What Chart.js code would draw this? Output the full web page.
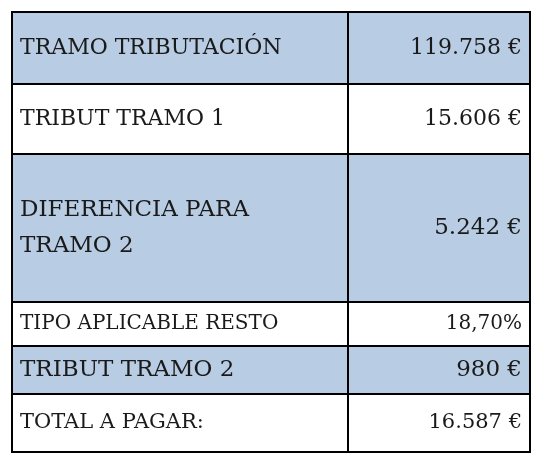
<!DOCTYPE html>
<html>
<head>
<meta charset="utf-8">
<script src="https://cdn.jsdelivr.net/npm/chart.js@4"></script>
<style>body{margin:0;background:#fff}#wrap{width:539px;height:459px}</style>
</head>
<body>
<div id="wrap"><canvas id="myChart"></canvas></div>
<script>
var labels = ["TRAMO TRIBUTACIÓN", "TRIBUT TRAMO 1", "DIFERENCIA PARA\nTRAMO 2", "TIPO APLICABLE RESTO", "TRIBUT TRAMO 2", "TOTAL A PAGAR:"];
var values = ["119.758 €", "15.606 €", "5.242 €", "18,70%", "980 €", "16.587 €"];
var rowEdges = [12, 84, 154, 302, 346, 394, 452];
var fontSizes = [22, 22, 23, 20, 23, 21];

var tablePlugin = {
  id: 'table',
  afterDraw: function (chart) {
    var c = chart.ctx, left = 12, right = 530, mid = 348;
    c.save();
    for (var i = 0; i < labels.length; i++) {
      var top = rowEdges[i], bot = rowEdges[i + 1];
      c.fillStyle = i % 2 == 0 ? '#b8cce4' : '#ffffff';
      c.fillRect(left, top, right - left, bot - top);
      c.fillStyle = '#1a1a1a';
      c.font = fontSizes[i] + 'px "DejaVu Serif", serif';
      c.textBaseline = 'middle';
      var lines = labels[i].split('\n'), cy = (top + bot) / 2, lh = fontSizes[i] * 1.6;
      c.textAlign = 'left';
      lines.forEach(function (l, k) {
        c.fillText(l, left + 8, cy + (k - (lines.length - 1) / 2) * lh);
      });
      c.textAlign = 'right';
      c.fillText(values[i], right - 8, cy);
    }
    c.strokeStyle = '#000';
    c.lineWidth = 2;
    c.strokeRect(left, rowEdges[0], right - left, rowEdges[6] - rowEdges[0]);
    c.beginPath();
    c.moveTo(mid, rowEdges[0]); c.lineTo(mid, rowEdges[6]);
    for (var j = 1; j < rowEdges.length - 1; j++) {
      c.moveTo(left, rowEdges[j]); c.lineTo(right, rowEdges[j]);
    }
    c.stroke();
    c.restore();
  }
};

new Chart(document.getElementById('myChart'), {
  type: 'bar',
  data: { labels: labels, datasets: [{ data: [], label: 'tabla' }] },
  options: {
    responsive: true, maintainAspectRatio: false, animation: false,
    plugins: { legend: { display: false }, tooltip: { enabled: false } },
    scales: { x: { display: false }, y: { display: false } }
  },
  plugins: [tablePlugin]
});
</script>
</body>
</html>
